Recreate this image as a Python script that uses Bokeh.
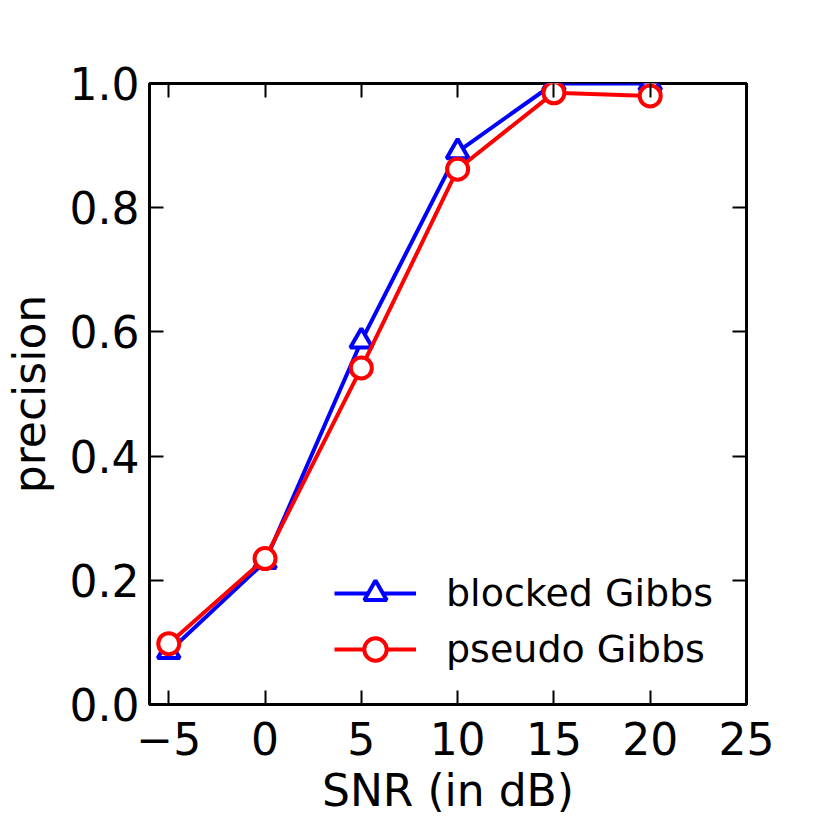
from bokeh.plotting import figure
from bokeh.models import LinearAxis, FixedTicker, Legend, LegendItem, NumeralTickFormatter
from bokeh.embed import file_html
from bokeh.resources import INLINE

# data
snr = [-5, 0, 5, 10, 15, 20]
blocked_gibbs = [0.085, 0.23, 0.585, 0.89, 1.0, 1.0]
pseudo_gibbs = [0.098, 0.235, 0.542, 0.862, 0.985, 0.98]
x_ticks = [-5, 0, 5, 10, 15, 20, 25]
y_ticks = [0.0, 0.2, 0.4, 0.6, 0.8, 1.0]

FONT = "DejaVu Sans"

p = figure(frame_width=597, frame_height=621, x_range=(-6, 25), y_range=(0, 1.0),
           output_backend="svg", toolbar_location=None,
           min_border_left=142, min_border_top=83, min_border_right=60, min_border_bottom=110)
p.grid.visible = False
p.outline_line_color = "black"
p.outline_line_width = 3
p.background_fill_color = "white"
p.border_fill_color = "white"

def style_axis(ax):
    ax.axis_line_color = None
    ax.major_tick_in = 14
    ax.major_tick_out = 0
    ax.major_tick_line_width = 2
    ax.major_tick_line_color = "black"
    ax.minor_tick_line_color = None
    ax.major_label_text_font = FONT
    ax.major_label_text_font_size = "44px"
    ax.major_label_text_color = "black"
    ax.axis_label_text_font = FONT
    ax.axis_label_text_font_size = "44px"
    ax.axis_label_text_font_style = "normal"
    ax.axis_label_text_color = "black"

xax = p.xaxis[0]
yax = p.yaxis[0]
style_axis(xax)
style_axis(yax)
xax.ticker = FixedTicker(ticks=x_ticks)
xax.major_label_overrides = {-5: "\u22125"}
xax.major_label_standoff = 17
xax.axis_label = "SNR (in dB)"
xax.axis_label_standoff = 7
yax.ticker = FixedTicker(ticks=y_ticks)
yax.formatter = NumeralTickFormatter(format="0.0")
yax.major_label_standoff = 10
yax.axis_label = "precision"
yax.axis_label_standoff = 12

top = LinearAxis(ticker=FixedTicker(ticks=x_ticks), major_label_overrides={t: "" for t in x_ticks})
right = LinearAxis(ticker=FixedTicker(ticks=y_ticks), major_label_overrides={t: "" for t in y_ticks})
style_axis(top)
style_axis(right)
top.major_label_text_font_size = "1px"
right.major_label_text_font_size = "1px"
p.add_layout(top, "above")
p.add_layout(right, "right")

l1 = p.line(snr, blocked_gibbs, line_color="blue", line_width=4)
s1 = p.scatter(snr, blocked_gibbs, marker="triangle", size=22, line_color="blue",
               line_width=4, fill_color="white")
l2 = p.line(snr, pseudo_gibbs, line_color="red", line_width=4)
s2 = p.scatter(snr, pseudo_gibbs, marker="circle", size=21, line_color="red",
               line_width=4, fill_color="white")

legend = Legend(items=[LegendItem(label="blocked Gibbs", renderers=[l1, s1]),
                       LegendItem(label="pseudo Gibbs", renderers=[l2, s2])],
                location=(185, 27), border_line_color=None, background_fill_alpha=0,
                padding=0, margin=0, spacing=0, glyph_width=82, glyph_height=56,
                label_height=56, label_standoff=30,
                label_text_font=FONT, label_text_font_size="38px", label_text_color="black")
p.add_layout(legend)

open("out.html", "w").write(file_html(p, INLINE))
